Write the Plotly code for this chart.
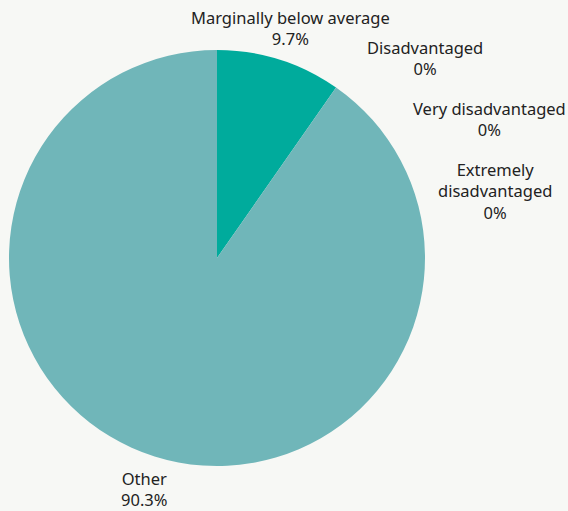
import plotly.graph_objects as go

labels = ["Marginally below average", "Disadvantaged", "Very disadvantaged", "Extremely disadvantaged", "Other"]
values = [9.7, 0, 0, 0, 90.3]
display_labels = ["Marginally below average", "Disadvantaged", "Very disadvantaged", "Extremely<br>disadvantaged", "Other"]
colors = ["#00ab9c", "#2e6f6c", "#2e6f6c", "#2e6f6c", "#70b6b9"]

# label block centres in pixels (layout only)
label_pos = [(290, 28.5), (425, 57.5), (489.5, 119), (495, 191), (144, 489)]

W, H = 568, 511
total = sum(values)

fig = go.Figure(go.Pie(
    labels=labels,
    values=values,
    sort=False,
    direction="clockwise",
    rotation=0,
    marker=dict(colors=colors, line=dict(width=0)),
    textinfo="none",
    hoverinfo="label+percent",
    showlegend=False,
    domain=dict(x=[9/W, 425/W], y=[1-466/H, 1-50/H]),
))

for lab, v, (px, py) in zip(display_labels, values, label_pos):
    pct = v / total * 100
    pct_txt = f"{pct:.1f}".rstrip("0").rstrip(".") + "%"
    fig.add_annotation(
        x=px/W, y=1-py/H, xref="paper", yref="paper",
        text=f"{lab}<br>{pct_txt}", showarrow=False,
        xanchor="center", yanchor="middle", align="center",
        font=dict(size=16.5, color="#222222", family="Noto Sans, sans-serif"),
    )

fig.update_layout(
    width=W, height=H,
    margin=dict(l=0, r=0, t=0, b=0),
    paper_bgcolor="#f7f8f5",
    plot_bgcolor="#f7f8f5",
    font=dict(family="Noto Sans, sans-serif", size=16, color="#222222"),
)
fig.write_html(
    "out.html",
    config={"displayModeBar": False},
    post_script="document.body.style.margin='0';document.body.style.overflow='hidden';document.body.style.background='#f7f8f5';",
)
